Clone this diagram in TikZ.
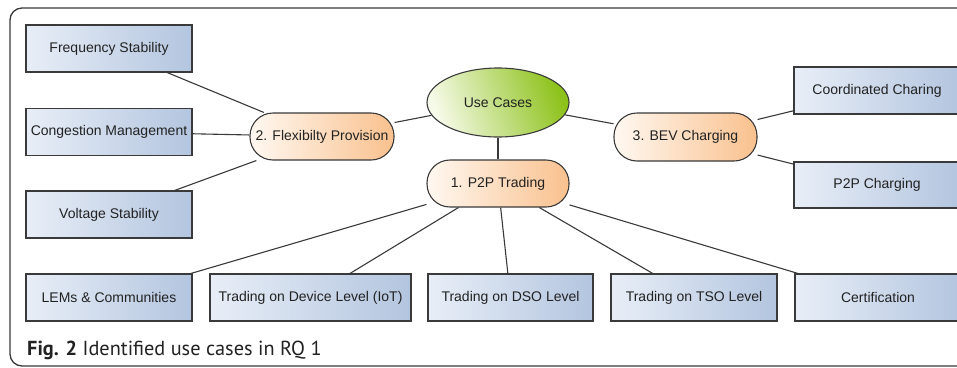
\documentclass[tikz,border=0pt]{standalone}
\usepackage{fontspec}
\setmainfont{Liberation Sans}
\newfontfamily\capfont{PT Sans}
\usetikzlibrary{shapes.geometric}
\definecolor{boxL}{HTML}{E8EEF7}
\definecolor{boxR}{HTML}{B3C5DF}
\definecolor{pillL}{HTML}{FFF8F1}
\definecolor{pillR}{HTML}{F9C18E}
\definecolor{ellL}{HTML}{F6FAE8}
\definecolor{ellR}{HTML}{8DC21B}
\definecolor{edge}{HTML}{3A3A3A}
\definecolor{txt}{HTML}{222222}
\tikzset{
  leaf/.style={rectangle, draw=edge, line width=1.1pt, left color=boxL, right color=boxR,
    minimum width=166pt, minimum height=47pt, inner sep=0pt, text=txt,
    font=\fontsize{14}{16}\selectfont},
  pill/.style={rectangle, rounded corners=23pt, draw=edge, line width=1.1pt,
    left color=pillL, right color=pillR, minimum width=143pt, minimum height=47pt,
    inner sep=0pt, text=txt, font=\fontsize{14}{16}\selectfont},
  root/.style={ellipse, draw=edge, line width=1.1pt, shading=axis, left color=ellL,
    right color=ellR, shading angle=110, minimum width=142pt, minimum height=69pt,
    inner sep=0pt, text=txt, font=\fontsize{14}{16}\selectfont},
  link/.style={draw=edge, line width=1.1pt}
}
\begin{document}
\begin{tikzpicture}[x=1pt,y=-1pt]
\useasboundingbox (0,0) rectangle (957,367);
\clip (0,0) rectangle (957,367);
\fill[white] (0,0) rectangle (957,367);
\draw[edge, line width=1.3pt, rounded corners=12pt] (970,8) -- (10,8) -- (10,366) -- (970,366);

\node[leaf] (freq) at (109,48.5) {Frequency Stability};
\node[leaf] (cong) at (109,132) {Congestion Management};
\node[leaf] (volt) at (109,214.5) {Voltage Stability};
\node[pill, minimum width=144pt] (flex) at (322,136.5) {2. Flexibilty Provision};
\node[root] (uc) at (498,102.5) {Use Cases};
\node[pill, minimum width=142pt] (p2p) at (498,183.5) {1. P2P Trading};
\node[pill, minimum height=48pt] (bev) at (685.5,137) {3. BEV Charging};
\node[leaf] (coord) at (877,90.5) {Coordinated Charing};
\node[leaf, minimum height=46pt] (p2pc) at (877,185) {P2P Charging};
\node[leaf] (lems) at (109,297.5) {LEMs \& Communities};
\node[leaf, minimum width=201pt] (dev) at (310.5,297.5) {Trading on Device Level (IoT)};
\node[leaf, minimum width=165pt] (dso) at (510.5,297.5) {Trading on DSO Level};
\node[leaf] (tso) at (694,297.5) {Trading on TSO Level};
\node[leaf] (cert) at (878,297.5) {Certification};

\path[link] (freq) -- (flex);
\path[link] (cong) -- (flex);
\path[link] (volt) -- (flex);
\path[link] (uc) -- (flex);
\path[link] (uc) -- (p2p);
\path[link] (uc) -- (bev);
\path[link] (bev) -- (coord);
\path[link] (bev) -- (p2pc);
\path[link] (p2p) -- (lems);
\path[link] (p2p) -- (dev);
\path[link] (p2p) -- (dso);
\path[link] (p2p) -- (tso);
\path[link] (p2p) -- (cert);

\node[anchor=base west, inner sep=0pt, text=txt, font=\capfont\fontsize{20.3}{22}\selectfont] (cap) at (27,355) {\textbf{Fig. 2} Identified use cases in RQ 1};
\end{tikzpicture}
\end{document}
